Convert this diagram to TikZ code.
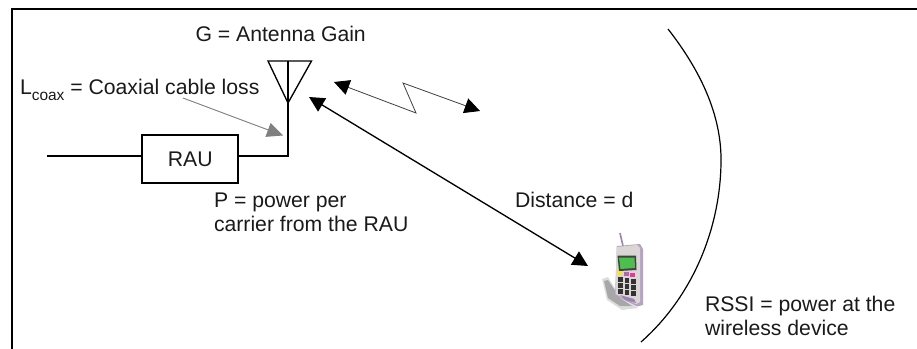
\documentclass[tikz,border=0pt]{standalone}
\usepackage{fontspec}
\setmainfont{Liberation Sans}
\usetikzlibrary{arrows.meta}
\definecolor{inktext}{HTML}{1A1A1A}
\definecolor{leaderg}{HTML}{808080}
\definecolor{phonebody}{HTML}{DAD6D4}
\definecolor{phoneedge}{HTML}{9C84B0}
\definecolor{phonescreen}{HTML}{4CC04C}
\definecolor{phonekey}{HTML}{333333}
\tikzset{
  x=0.75pt, y=-0.75pt,
  lbl/.style={anchor=base west, inner sep=0pt, outer sep=0pt, text=inktext, font=\fontsize{15.9pt}{17.5pt}\selectfont},
  frameline/.style={line width=2pt, black},
  wire/.style={line width=1.5pt, black, line join=miter},
  antennaline/.style={line width=1pt, black, line join=miter},
  bigtip/.style={{Triangle[length=11.5pt,width=11.5pt,color=black,fill=black]}-{Triangle[length=11.5pt,width=11.5pt,color=black,fill=black]}},
  distarrow/.style={line width=1pt, black, bigtip},
  signalarrow/.style={line width=0.6pt, black!75, line join=miter, bigtip},
  leader/.style={line width=0.7pt, leaderg, -{Triangle[length=12pt,width=11pt]}},
  rim/.style={line width=0.9pt, black},
}
\newcommand{\subtext}[1]{\raisebox{-0.24em}{\fontsize{11.6pt}{12pt}\selectfont #1}}
\begin{document}
\begin{tikzpicture}
\useasboundingbox (0,0) rectangle (917,349);
% frame
\coordinate (frameBL) at (12,349);
\coordinate (frameTL) at (12,9);
\coordinate (frameTR) at (917,9);
\draw[frameline] (frameBL) -- (frameTL) -- (frameTR);
% labels
\node[lbl] (gain) at (195.5,41.5) {G = Antenna Gain};
\node[lbl] (coax) at (20,95) {L\subtext{coax} = Coaxial cable loss};
\node[lbl] (p1) at (214,207.5) {P = power per};
\node[lbl] (p2) at (214,231) {carrier from the RAU};
\node[lbl] (dist) at (515,207.5) {Distance = d};
\node[lbl] (rssi1) at (705,311.5) {RSSI = power at the};
\node[lbl] (rssi2) at (705,335) {wireless device};
% RAU and feed
\node[draw=black, line width=1.5pt, minimum width=72pt, minimum height=35.5pt, inner sep=0pt,
      text=inktext, font=\fontsize{15.9pt}{17.5pt}\selectfont] (rau) at (190.3,159) {RAU};
\coordinate (feedL) at (47,156.5);
\coordinate (feedB) at (288,156.5);
\coordinate (antTop) at (288,61);
\coordinate (antTL) at (268,61);
\coordinate (antTR) at (311.5,61);
\coordinate (antApex) at (288,103);
\draw[wire] (feedL) -- (feedL -| rau.west);
\draw[wire] (feedB -| rau.east) -- (feedB) -- (antTop);
\draw[antennaline] (antTL) -- (antTR) -- (antApex) -- cycle;
% leader
\coordinate (leadS) at (183,98);
\coordinate (leadE) at (283,135.5);
\draw[leader] (leadS) -- (leadE);
% distance arrow
\coordinate (distA) at (309,97);
\coordinate (distB) at (588,266);
\draw[distarrow] (distA) -- (distB);
% signal
\coordinate (sigA) at (334,82);
\coordinate (sigB) at (416,113);
\coordinate (sigC) at (403,83);
\coordinate (sigD) at (480,111);
\draw[signalarrow] (sigA) -- (sigB) -- (sigC) -- (sigD);
% coverage rim
\coordinate (rimA) at (668,29);
\coordinate (rimB) at (641,342);
\draw[rim] (rimA) .. controls (700,70) and (722,115) .. (721,163)
  .. controls (720,230) and (692,297) .. (rimB);
% phone
\fill[black!45, opacity=.3] (602,279) -- (608,277) -- (620,297) -- (638,308) -- (622,310) -- (607,300) -- cycle;
\fill[black!55, opacity=.5] (604,281) -- (608,280) -- (620,298) -- (632,306) -- (620,306) -- (608,298) -- cycle;
\draw[line width=1.2pt, phoneedge] (620,233) -- (623,246);
\fill[phoneedge!75] (617,246) -- (640,244) -- (643,249) -- (643,305) -- (637,306.5) -- (615,295) -- cycle;
\fill[phonebody] (616.5,247) -- (637,245) -- (640,248) -- (640,302) -- (636,304) -- (615.5,294) -- cycle;
\fill[black!75] (617.5,255.5) -- (636,255.5) -- (636.5,270) -- (619,271) -- cycle;
\fill[phonescreen] (619,257.5) -- (634.5,257.5) -- (635,268) -- (620.5,269) -- cycle;
\fill[yellow!90!orange] (617.5,271) rectangle (622,275);
\fill[violet!60] (623.5,272) rectangle (628.5,276);
\fill[magenta!80] (630,273) rectangle (635,277);
\foreach \kx/\kdy in {618/0, 624.5/1, 631/2}{
  \foreach \ky in {277,283,289}{
    \fill[phonekey] (\kx,\ky+\kdy) rectangle ++(4.8,5);
  }
}
\fill[phoneedge] (620,295) -- (634,299) -- (636,303) -- (625,300) -- cycle;
\end{tikzpicture}
\end{document}
